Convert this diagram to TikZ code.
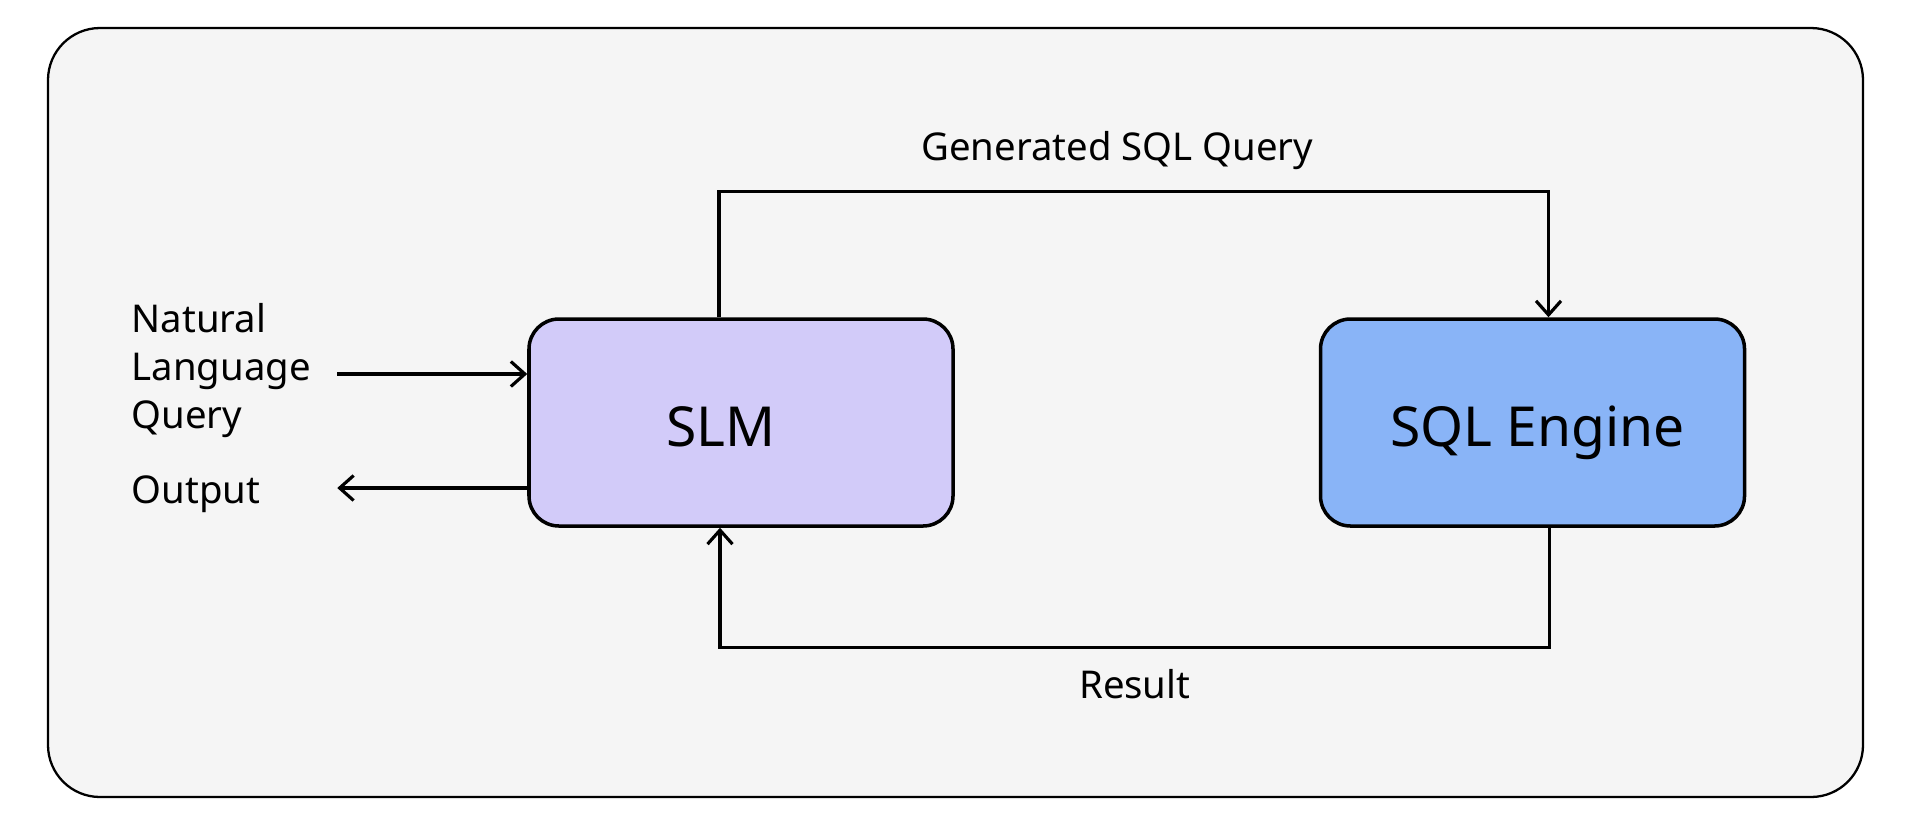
\documentclass[tikz,border=0pt]{standalone}
\usepackage{fontspec}
\setmainfont{Noto Sans}
\usepackage{xcolor}
\usepackage{tikz}
\usetikzlibrary{positioning, arrows.meta, calc}

\definecolor{framebg}{HTML}{F5F5F5}
\definecolor{slmfill}{HTML}{D2CBF9}
\definecolor{sqlfill}{HTML}{89B4F7}

\begin{document}
\begin{tikzpicture}[
  block/.style={
    rectangle, draw=black, rounded corners=0.3cm, line width=1pt,
    minimum width=4.24cm, minimum height=2.07cm,
    align=center, fill=#1, text height=0.47cm, text depth=0cm,
    font=\fontsize{15.7}{19}\selectfont,
  },
  flowlabel/.style={font=\fontsize{10.9}{13.66}\selectfont, inner sep=0pt},
  link/.style={line width=0.9pt, black, line join=miter},
  tip/.style={-{Straight Barb[length=1.4mm, width=2.5mm]}},
]
% Canvas and the grey rounded frame.
\useasboundingbox (0,0) rectangle (19.08,-8.22);
\fill[white] (0,0) rectangle (19.08,-8.22);
\draw[line width=0.65pt, fill=framebg, rounded corners=0.52cm] (0.48,-0.28) rectangle (18.63,-7.97);

% The two blocks, side by side.
\node[block=slmfill] (slm) at (7.41,-4.225) {SLM\hspace*{0.4cm}};
\node[block=sqlfill, right=3.64cm of slm] (sql) {\hspace*{0.1cm}SQL Engine};

% Texts on the left.
\node[flowlabel, align=left, anchor=west] (query) at (1.31,-3.71) {Natural\\Language\\Query};
\node[flowlabel, anchor=base west] (output) at (1.31,-5.035) {Output};

% Ends of the two arrows on the left side of the SLM.
\coordinate (qin)  at ([shift={(-1.9,0.485)}]slm.west);
\coordinate (qout) at ([shift={(-1.9,-0.655)}]slm.west);

\draw[link, tip] (qin) -- (qin -| slm.west);
\draw[link, tip] (qout -| slm.west) -- (qout);

% Query goes over the top, result comes back underneath.
\draw[link, tip] ([xshift=-0.22cm]slm.north) -- ++(0,1.26)
  -| node[flowlabel, pos=0.24, above=0.2cm] (gen) {Generated SQL Query}
  ([xshift=0.16cm]sql.north);
\draw[link, tip] ([xshift=0.17cm]sql.south) -- ++(0,-1.2)
  -| node[flowlabel, pos=0.25, below=0.2cm] (res) {Result}
  ([xshift=-0.21cm]slm.south);

\end{tikzpicture}
\end{document}
